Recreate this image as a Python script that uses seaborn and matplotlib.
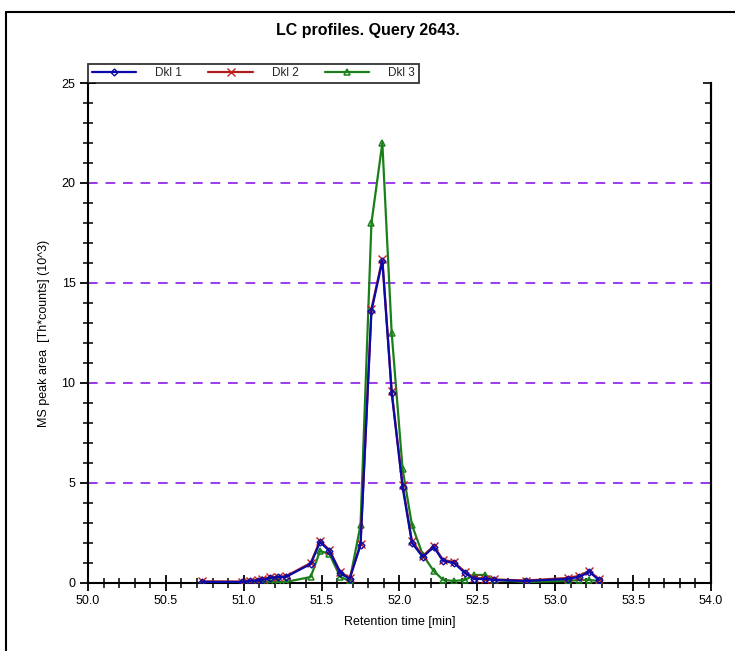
import matplotlib
matplotlib.use("Agg")
import matplotlib.pyplot as plt
from matplotlib.lines import Line2D
from matplotlib.ticker import MultipleLocator, FormatStrFormatter, NullFormatter
import seaborn as sns
import pandas as pd

# Retention times [min] shared by the three runs
retention_time = [50.73, 50.99, 51.04, 51.09, 51.12, 51.17, 51.22, 51.27, 51.43, 51.49,
                  51.55, 51.62, 51.68, 51.75, 51.82, 51.89, 51.95, 52.02, 52.08, 52.15,
                  52.22, 52.28, 52.35, 52.42, 52.48, 52.55, 52.61, 52.81, 53.08, 53.15,
                  53.22, 53.28]

# MS peak areas [Th*counts] (10^3)
dkl1 = [0.05, 0.05, 0.10, 0.12, 0.15, 0.25, 0.30, 0.30, 0.95, 2.05,
        1.60, 0.50, 0.20, 1.90, 13.6, 16.1, 9.5, 4.8, 2.0, 1.3,
        1.8, 1.1, 1.0, 0.5, 0.2, 0.2, 0.15, 0.10, 0.20, 0.30,
        0.55, 0.15]
dkl2 = [0.08, 0.07, 0.12, 0.15, 0.20, 0.28, 0.32, 0.33, 1.00, 2.10,
        1.65, 0.55, 0.25, 1.95, 13.7, 16.2, 9.6, 4.9, 2.1, 1.35,
        1.85, 1.15, 1.05, 0.55, 0.25, 0.22, 0.18, 0.12, 0.25, 0.35,
        0.60, 0.18]
dkl3 = [0.02, 0.02, 0.02, 0.03, 0.03, 0.04, 0.05, 0.05, 0.30, 1.60,
        1.45, 0.30, 0.10, 2.9, 18.0, 22.0, 12.5, 5.7, 2.9, 1.4,
        0.6, 0.15, 0.10, 0.15, 0.40, 0.40, 0.15, 0.05, 0.10, 0.15,
        0.15, 0.10]

series_names = ["Dkl 1", "Dkl 2", "Dkl 3"]
gridline_levels = [5, 10, 15, 20]

sns.set_theme(style="white")
plt.rcParams["font.family"] = ["Liberation Sans", "DejaVu Sans"]

fig = plt.figure(figsize=(7.35, 6.51), dpi=100)
ax = fig.add_axes([0.1197, 0.1045, 0.8476, 0.768])

for y in gridline_levels:
    ax.axhline(y, color="#9b3cf0", linestyle=(0, (5, 4)), linewidth=1.4, zorder=1)

styles = {
    "Dkl 3": dict(color="#1a7f1a", marker="^", markersize=5, markerfacecolor="none",
                  markeredgecolor="#1a7f1a", markeredgewidth=1.1),
    "Dkl 2": dict(color="#b01c1c", marker="x", markersize=6,
                  markeredgecolor="#c02020", markeredgewidth=1.0),
    "Dkl 1": dict(color="#0a0aa8", marker="D", markersize=3.5, markerfacecolor="none",
                  markeredgecolor="#0a0aa8", markeredgewidth=1.0),
}
values = {"Dkl 1": dkl1, "Dkl 2": dkl2, "Dkl 3": dkl3}

for name in ["Dkl 3", "Dkl 2", "Dkl 1"]:
    df = pd.DataFrame({"t": retention_time, "v": values[name]})
    sns.lineplot(data=df, x="t", y="v", ax=ax, sort=False, linewidth=1.6,
                 label=name, zorder=3, **styles[name])

ax.set_xlim(50.0, 54.0)
ax.set_ylim(0, 25)
ax.xaxis.set_major_locator(MultipleLocator(0.5))
ax.xaxis.set_minor_locator(MultipleLocator(0.1))
ax.xaxis.set_major_formatter(FormatStrFormatter("%.1f"))
ax.yaxis.set_major_locator(MultipleLocator(5))
ax.yaxis.set_minor_locator(MultipleLocator(1))

ax.tick_params(axis="both", which="major", direction="inout", length=11, width=1.3,
               color="black", labelsize=9, labelcolor="black")
ax.tick_params(axis="both", which="minor", direction="inout", length=7, width=1.1,
               color="black")
ax.tick_params(axis="y", which="both", left=True, right=False)
ax.tick_params(axis="x", which="both", bottom=True, top=False)

# Right-hand scale: inward ticks only, no labels
right = ax.secondary_yaxis("right")
right.yaxis.set_major_locator(MultipleLocator(5))
right.yaxis.set_minor_locator(MultipleLocator(1))
right.yaxis.set_major_formatter(NullFormatter())
right.tick_params(which="major", direction="in", length=6, width=1.2, color="black")
right.tick_params(which="minor", direction="in", length=4, width=1.1, color="black")
right.spines["right"].set_color("black")
right.spines["right"].set_linewidth(1.5)

for side in ["left", "bottom", "right"]:
    ax.spines[side].set_visible(True)
    ax.spines[side].set_color("black")
    ax.spines[side].set_linewidth(1.5)
ax.spines["top"].set_visible(False)

ax.set_xlabel("Retention time [min]", fontsize=9, color="black", labelpad=6)
ax.set_ylabel("MS peak area  [Th*counts] (10^3)", fontsize=9, color="black", labelpad=8)

handles, labels = ax.get_legend_handles_labels()
order = [labels.index(n) for n in series_names]
leg = ax.legend([handles[i] for i in order], [labels[i] for i in order],
                loc="lower left", bbox_to_anchor=(0.0, 1.0), ncol=3, frameon=True,
                fancybox=False, shadow=False, fontsize=8.5, handlelength=3.8,
                columnspacing=2.2, borderpad=0.3, handletextpad=1.6,
                borderaxespad=0.0)
leg.get_frame().set_edgecolor("black")
leg.get_frame().set_linewidth(1.3)

fig.text(0.5, 1 - 30 / 651, "LC profiles. Query 2643.", ha="center", va="center",
         fontsize=11.5, fontweight="bold", color="black")

# Outer frame of the figure
fig.add_artist(Line2D([6 / 735, 1.0], [1 - 12 / 651, 1 - 12 / 651], color="black",
                      linewidth=1.5, transform=fig.transFigure))
fig.add_artist(Line2D([6 / 735, 6 / 735], [0.0, 1 - 12 / 651], color="black",
                      linewidth=1.5, transform=fig.transFigure))

fig.savefig("out.png", dpi=100, facecolor="white")
